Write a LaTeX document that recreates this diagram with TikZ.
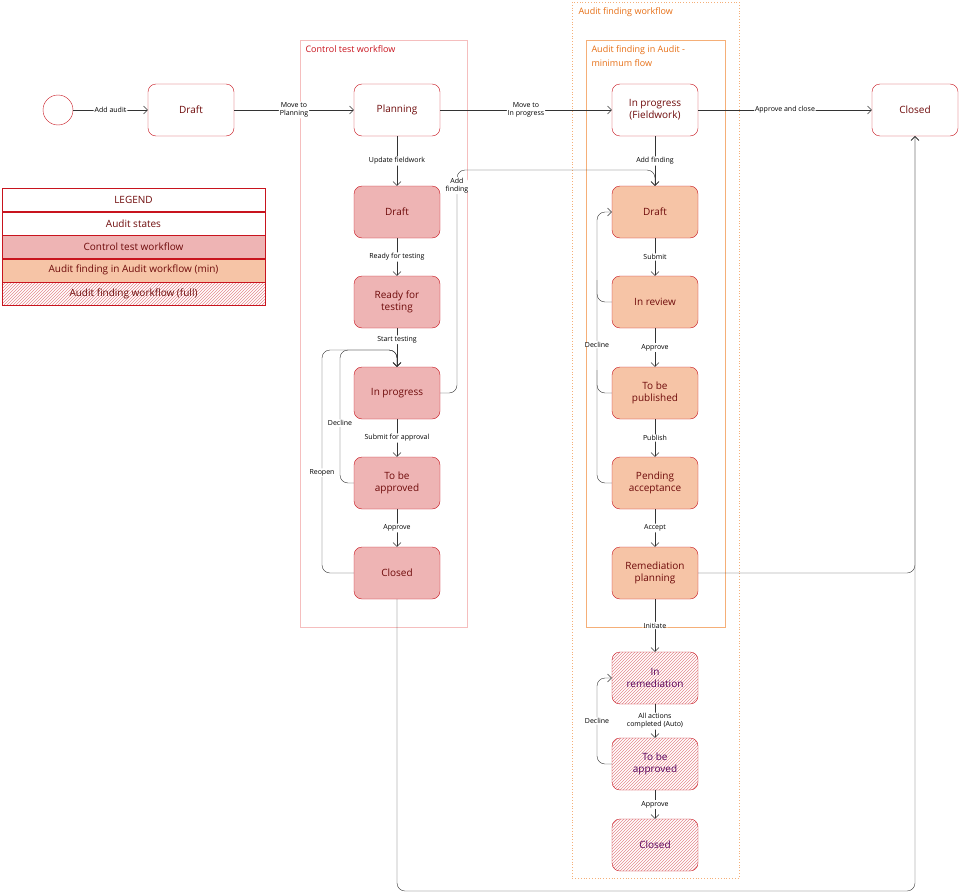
\documentclass[tikz,border=0pt]{standalone}
\usepackage{fontspec}
\setmainfont{Open Sans}
\usetikzlibrary{positioning, patterns, arrows.meta}
\definecolor{statered}{RGB}{200,20,30}
\definecolor{statetext}{RGB}{110,10,10}
\definecolor{ctfill}{RGB}{238,180,180}
\definecolor{affill}{RGB}{246,196,166}
\definecolor{ctframe}{RGB}{245,190,190}
\definecolor{afframe}{RGB}{245,175,120}
\definecolor{aftext}{RGB}{230,110,20}

\begin{document}
\begin{tikzpicture}[x=1pt,y=-1pt,
    state/.style={draw=statered, fill=white, rounded corners=8pt, minimum width=86pt, minimum height=52pt,
      align=center, text=statetext, font=\fontsize{10}{12}\selectfont},
    ctstate/.style={state, fill=ctfill},
    afstate/.style={state, fill=affill},
    fullstate/.style={state, pattern=north east lines, pattern color=statered!50, text=violet!70!black},
    lbl/.style={fill=white, inner sep=1pt, align=center, font=\fontsize{7}{8}\selectfont},
    flow/.style={draw=black!80, -{Straight Barb[length=4pt]}, rounded corners=8pt},
    legrow/.style={draw=statered, minimum width=263pt, minimum height=23pt, text=statetext, font=\fontsize{10}{12}\selectfont}]
  \useasboundingbox (0,0) rectangle (959,894);

  % frames
  \draw[ctframe] (300,40) rectangle (467,627);
  \node[anchor=north west, text=statered, font=\fontsize{9}{11}\selectfont] at (302,42) {Control test workflow};
  \draw[afframe, dotted, thick] (572,2) rectangle (739,878);
  \node[anchor=north west, text=aftext, font=\fontsize{9}{11}\selectfont] at (575,4) {Audit finding workflow};
  \draw[afframe] (586,40) rectangle (725,627);
  \node[anchor=north west, text=aftext, align=left, font=\fontsize{9}{14}\selectfont] at (588,42) {Audit finding in Audit -\\minimum flow};

  % audit states
  \node[draw=statered, circle, minimum size=30pt, inner sep=0pt] (start) at (58,110) {};
  \node[state] (draft) at (191,110) {Draft};
  \node[state] (plan) at (397,110) {Planning};
  \node[state] (field) at (655,110) {In progress\\(Fieldwork)};
  \node[state] (closed) at (915,110) {Closed};

  % control test
  \node[ctstate] (ctdraft) at (397,212) {Draft};
  \node[ctstate] (ctready) at (397,302) {Ready for\\testing};
  \node[ctstate] (ctprog) at (397,393) {In progress};
  \node[ctstate] (ctappr) at (397,483) {To be\\approved};
  \node[ctstate] (ctclosed) at (397,573) {Closed};

  % audit finding
  \node[afstate] (afdraft) at (655,212) {Draft};
  \node[afstate] (afreview) at (655,302) {In review};
  \node[afstate] (afpub) at (655,393) {To be\\published};
  \node[afstate] (afpend) at (655,483) {Pending\\acceptance};
  \node[afstate] (afplan) at (655,573) {Remediation\\planning};
  \node[fullstate] (afrem) at (655,678) {In\\remediation};
  \node[fullstate] (afappr) at (655,764) {To be\\approved};
  \node[fullstate] (afclosed) at (655,845) {Closed};

  % legend
  \node[legrow] (legtitle) at (133.5,200) {LEGEND};
  \node[legrow, below=0pt of legtitle] (legaudit) {Audit states};
  \node[legrow, fill=ctfill, below=0pt of legaudit] (legct) {Control test workflow};
  \node[legrow, fill=affill, below=0pt of legct] (legaf) {Audit finding in Audit workflow (min)};
  \node[legrow, pattern=north east lines, pattern color=statered!50, below=0pt of legaf] (legfull) {Audit finding workflow (full)};

  % top row
  \draw[flow] (start) -- node[lbl] {Add audit} (draft);
  \draw[flow] (draft) -- node[lbl] {Move to\\Planning} (plan);
  \draw[flow] (plan) -- node[lbl] {Move to\\In progress} (field);
  \draw[flow] (field) -- node[lbl] {Approve and close} (closed);

  % control test flow
  \draw[flow] (plan) -- node[lbl] {Update fieldwork} (ctdraft);
  \draw[flow] (ctdraft) -- node[lbl] {Ready for testing} (ctready);
  \draw[flow] (ctready) -- node[lbl, pos=0.3] {Start testing} (ctprog);
  \draw[flow] (ctprog) -- node[lbl] {Submit for approval} (ctappr);
  \draw[flow] (ctappr) -- node[lbl] {Approve} (ctclosed);
  \draw[flow] (ctappr.west) -- (340,483) -- node[lbl, pos=0.45] {Decline} (340,350) -- (397,350) -- (ctprog.north);
  \draw[flow] (ctclosed.west) -- (322,573) -- node[lbl, pos=0.45] {Reopen} (322,350) -- (397,350) -- (ctprog.north);
  \draw[flow] (ctprog.east) -- (457,393) -- node[lbl, pos=0.93] {Add\\finding} (457,170) -- (655,170) -- (afdraft.north);
  \draw[flow] (ctclosed.south) -- (397,891) -- (915,891) -- (closed.south);

  % audit finding flow
  \draw[flow] (field) -- node[lbl] {Add finding} (afdraft);
  \draw[flow] (afdraft) -- node[lbl] {Submit} (afreview);
  \draw[flow] (afreview) -- node[lbl] {Approve} (afpub);
  \draw[flow] (afpub) -- node[lbl] {Publish} (afpend);
  \draw[flow] (afpend) -- node[lbl] {Accept} (afplan);
  \draw[flow] (afplan) -- node[lbl] {Initiate} (afrem);
  \draw[flow] (afrem) -- node[lbl] {All actions\\completed (Auto)} (afappr);
  \draw[flow] (afappr) -- node[lbl] {Approve} (afclosed);
  \draw[flow] (afpend.west) -- (597,483) -- node[lbl, pos=0.51] {Decline} (597,212) -- (afdraft.west);
  \draw[draw=black!80, rounded corners=8pt] (afreview.west) -- (597,302) -- (597,280);
  \draw[draw=black!80, rounded corners=8pt] (afpub.west) -- (597,393) -- (597,370);
  \draw[flow] (afappr.west) -- (597,764) -- node[lbl] {Decline} (597,678) -- (afrem.west);
  \draw[flow] (afplan.east) -- (915,573) -- (closed.south);
\end{tikzpicture}
\end{document}
